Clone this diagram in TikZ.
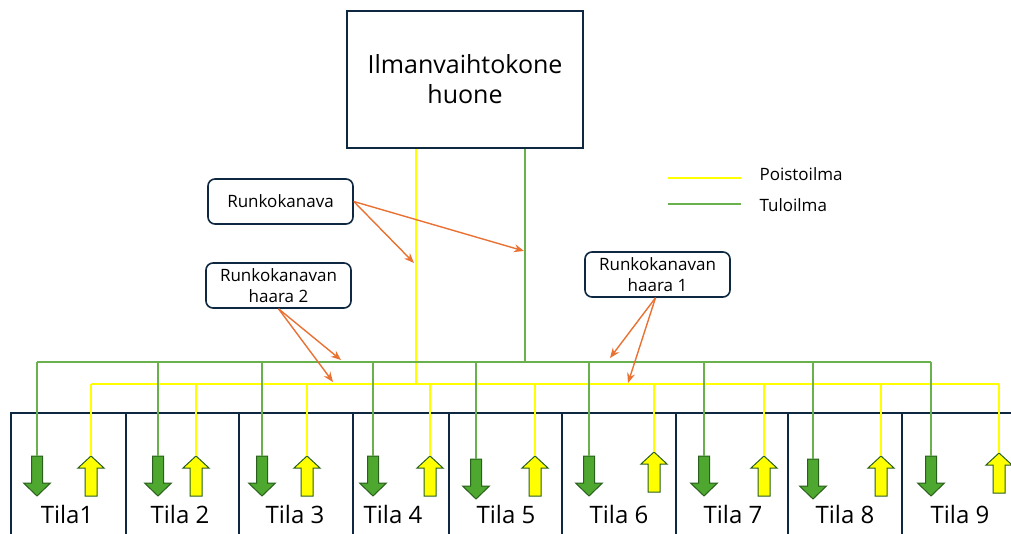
\documentclass[tikz,border=0pt]{standalone}
\usepackage{fontspec}
\setmainfont{Open Sans}
\usetikzlibrary{arrows.meta, positioning, calc}
\definecolor{myframe}{RGB}{14,40,65}
\definecolor{myyellow}{RGB}{255,255,0}
\definecolor{mygreen}{RGB}{106,176,76}
\definecolor{fillgreen}{RGB}{78,167,46}
\definecolor{edgegreen}{RGB}{40,96,28}
\definecolor{myorange}{RGB}{233,113,50}
\tikzset{
  machine/.style={rectangle, draw=myframe, line width=1.6pt,
    minimum width=236pt, minimum height=137pt, align=center,
    font=\fontsize{25}{30}\selectfont},
  note/.style={rectangle, draw=myframe, rounded corners=7pt, line width=1.6pt,
    minimum width=145pt, minimum height=45pt, align=center, inner sep=1pt,
    font=\fontsize{17}{21}\selectfont},
  legendtext/.style={anchor=west, font=\fontsize{17}{21}\selectfont},
  roomlabel/.style={anchor=base, font=\fontsize{24}{28}\selectfont},
  supply/.style={draw=mygreen, line width=2pt},
  exhaust/.style={draw=myyellow, line width=2.4pt},
  wall/.style={draw=myframe, line width=1.6pt},
  pointer/.style={-{Stealth[length=10pt, width=8pt]}, draw=myorange, line width=1.4pt},
  inlet/.pic={
    \draw[fill=fillgreen, draw=edgegreen, line width=1pt]
      (-5.5,0) -- (5.5,0) -- (5.5,27) -- (13.5,27) -- (0,40) -- (-13.5,27) -- (-5.5,27) -- cycle;
    \coordinate (-top) at (0,0);
  },
  outlet/.pic={
    \draw[fill=myyellow, draw=edgegreen, line width=1pt]
      (0,0) -- (13,12) -- (6,12) -- (6,40) -- (-6,40) -- (-6,12) -- (-13,12) -- cycle;
    \coordinate (-top) at (0,0);
  }
}
\begin{document}
\begin{tikzpicture}[x=1pt, y=-1pt]
  \useasboundingbox (0,0) rectangle (1011,534);

  % Machine room
  \node[machine] (ahu) at (465,79.5) {Ilmanvaihtokone\\huone};

  % Legend
  \coordinate (lgy1) at (668,178);
  \coordinate (lgy2) at (741,178);
  \coordinate (lgg1) at (668,204);
  \coordinate (lgg2) at (741,204);
  \draw[exhaust] (lgy1) -- (lgy2);
  \draw[supply] (lgg1) -- (lgg2);
  \node[legendtext] (poisto) at (756,174) {Poistoilma};
  \node[legendtext] (tulo) at (756,205) {Tuloilma};

  % Labels
  \node[note] (rk) at (280.5,201.5) {Runkokanava};
  \node[note] (rh2) at (278.5,285.5) {Runkokanavan\\haara 2};
  \node[note] (rh1) at (657.5,274.5) {Runkokanavan\\haara 1};

  % Rooms
  \draw[wall] (11,534) -- (11,413) -- (1011,413);
  \foreach \g/\e/\w/\c/\lab/\gt/\et [count=\i] in {
      37/91/11/67/Tila1/456/456,
      158/196/126/180/Tila 2/456/456,
      262/307/239/295/Tila 3/456/456,
      373/430/353/393/Tila 4/456/456,
      476/535/449/506/Tila 5/459/456,
      589/654/562/619/Tila 6/456/452,
      704/764/676/733/Tila 7/456/456,
      813/881/788/845/Tila 8/459/456,
      931/999/902/960/Tila 9/456/453} {
    \draw[wall] (\w,413) -- (\w,534);
    \pic (s\i) at (\g,\gt) {inlet};
    \pic (e\i) at (\e,\et) {outlet};
    \node[roomlabel] (t\i) at (\c,523) {\lab};
  }

  % Ducts
  \coordinate (gjoin) at (525,362);
  \coordinate (ejoin) at (416,384);
  \draw[supply] (gjoin |- ahu.south) -- (gjoin);
  \draw[exhaust] (ejoin |- ahu.south) -- (ejoin);
  \draw[supply] (s1-top |- gjoin) -- (s9-top |- gjoin);
  \draw[exhaust] (e1-top |- ejoin) -- (e9-top |- ejoin);
  \foreach \i in {1,...,9} {
    \draw[supply] (s\i-top |- gjoin) -- (s\i-top);
    \draw[exhaust] (e\i-top |- ejoin) -- (e\i-top);
  }

  % Pointers
  \coordinate (pe) at (414,263);
  \coordinate (pg) at (524,251);
  \coordinate (p2g) at (341,360);
  \coordinate (p2e) at (333,382);
  \coordinate (p1g) at (610,358);
  \coordinate (p1e) at (628,383);
  \draw[pointer] (rk.east) -- (pe);
  \draw[pointer] (rk.east) -- (pg);
  \draw[pointer] (rh2.south) -- (p2g);
  \draw[pointer] (rh2.south) -- (p2e);
  \draw[pointer] ([xshift=-2pt]rh1.south) -- (p1g);
  \draw[pointer] ([xshift=-2pt]rh1.south) -- (p1e);
\end{tikzpicture}
\end{document}
